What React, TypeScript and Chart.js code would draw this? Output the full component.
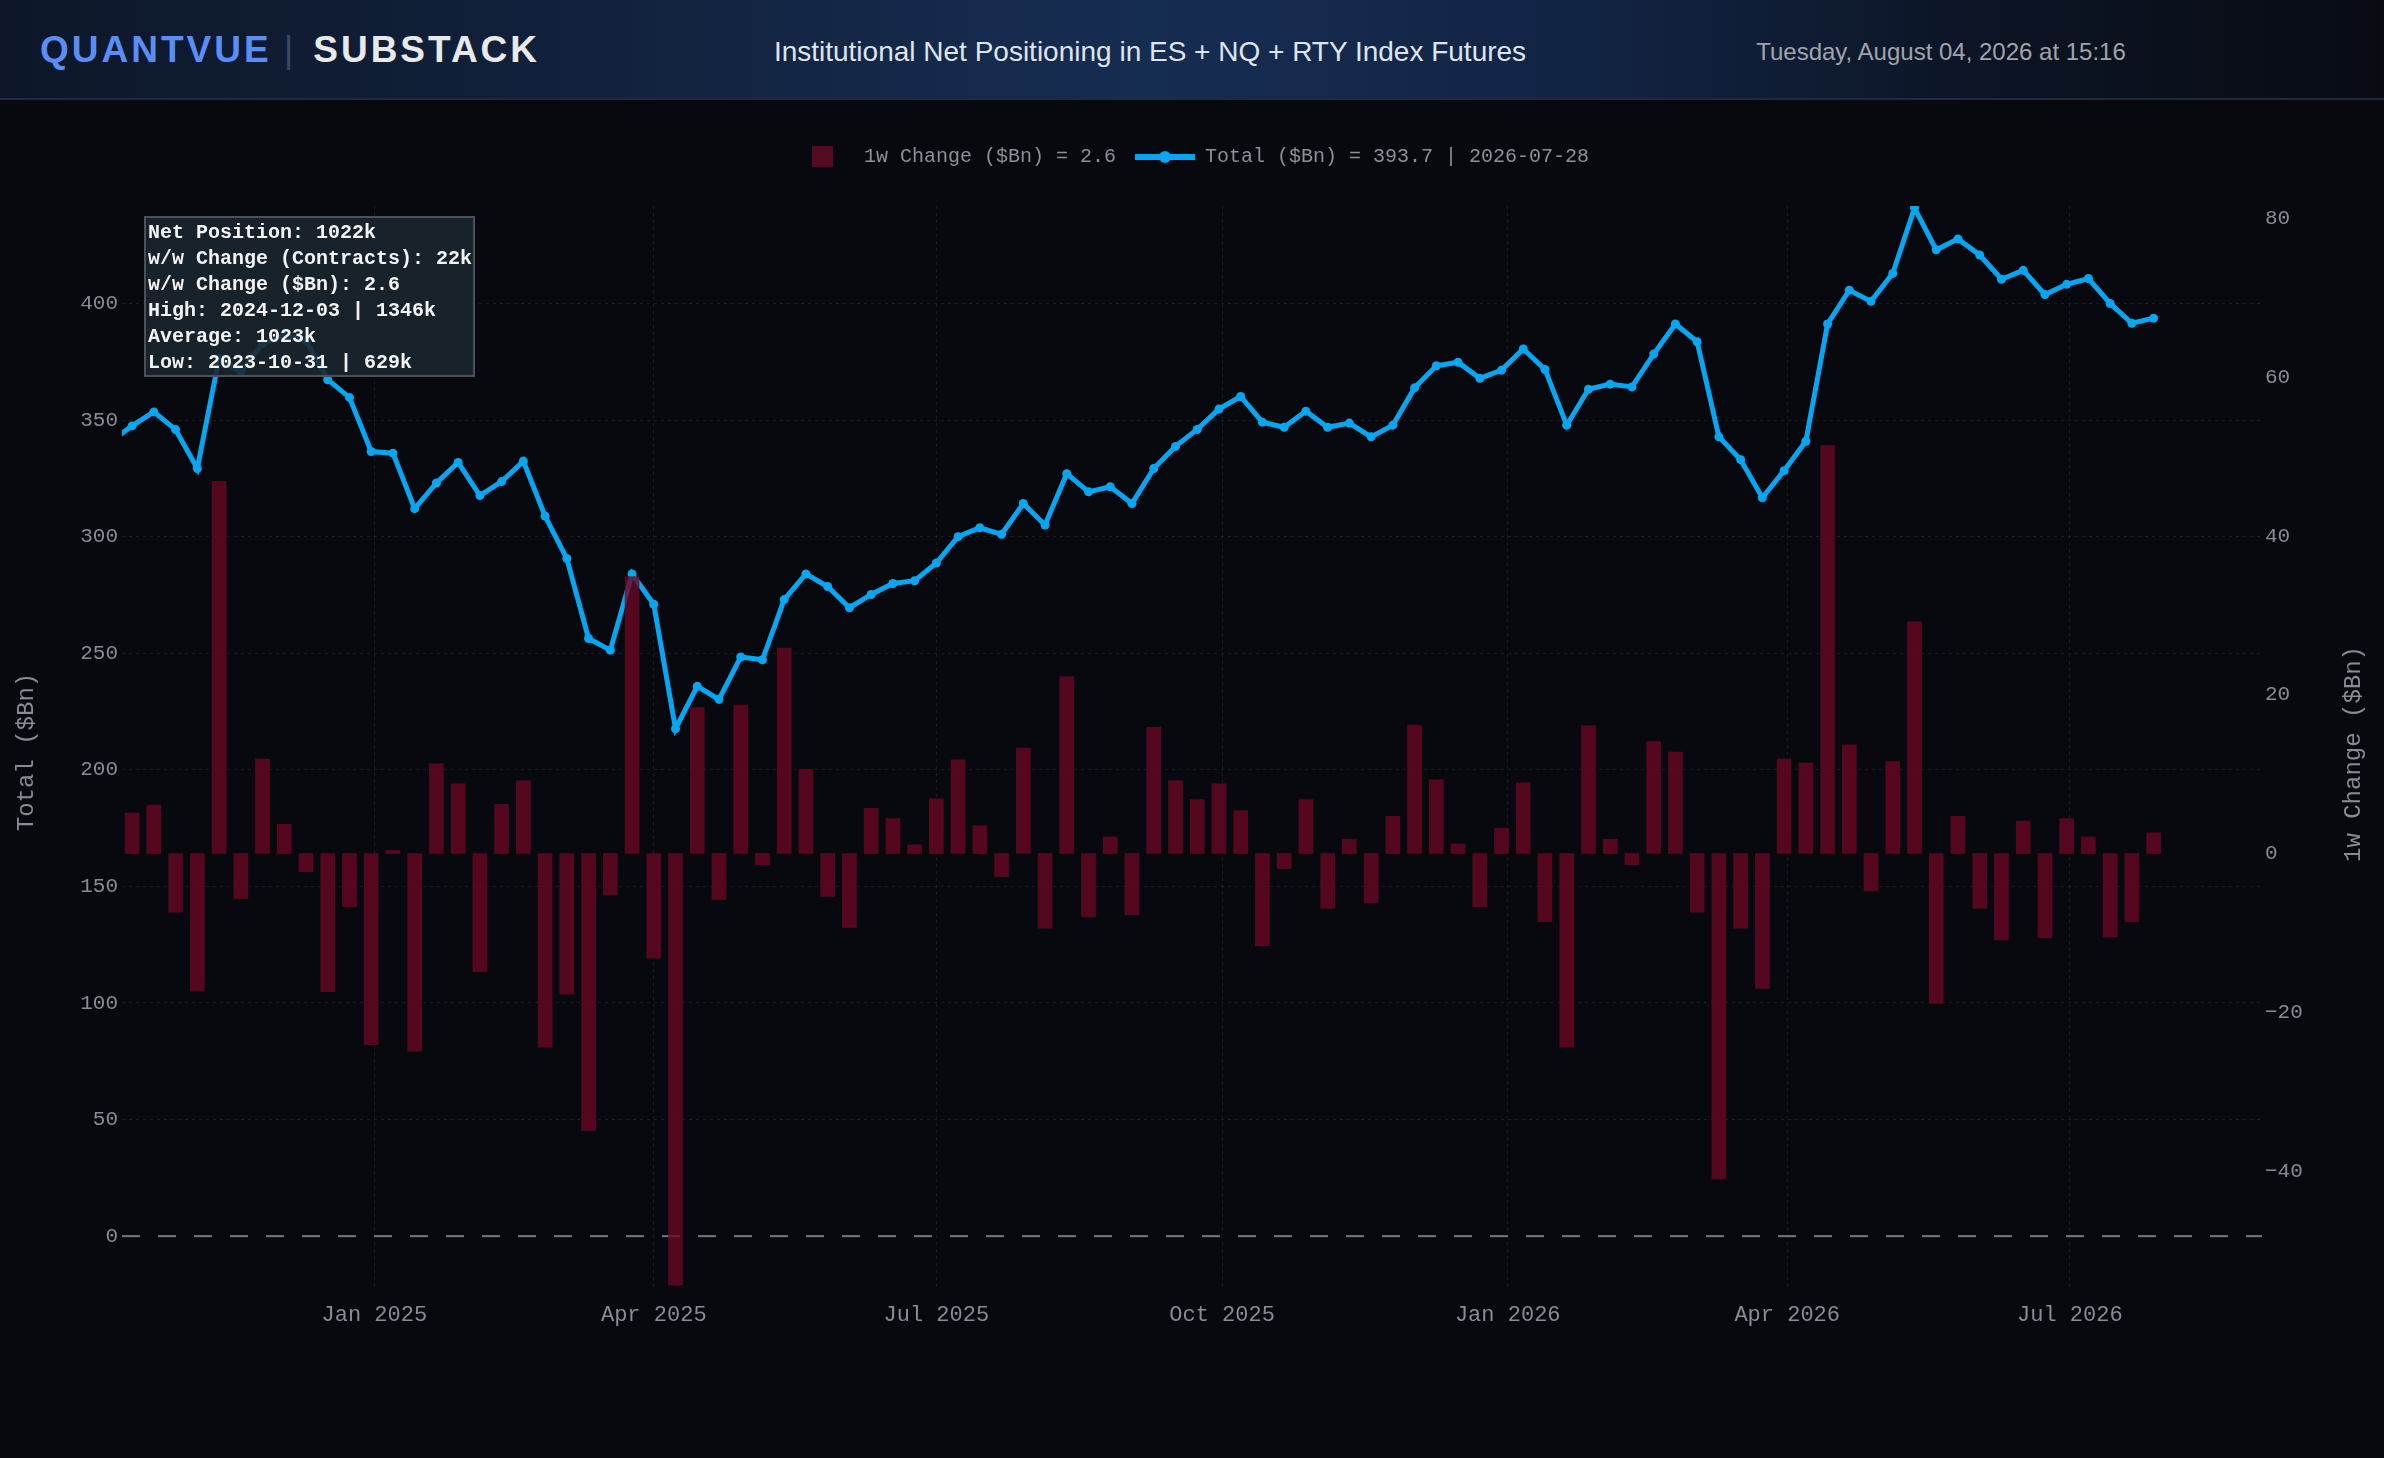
import React, { useEffect, useRef } from 'react';
import { Chart, registerables } from 'chart.js';

Chart.register(...registerables);

// ---------------- data ----------------
const DATES = [
  '2024-10-08', '2024-10-15', '2024-10-22', '2024-10-29', '2024-11-05', '2024-11-12', '2024-11-19', '2024-11-26',
  '2024-12-03', '2024-12-10', '2024-12-17', '2024-12-24', '2024-12-31',
  '2025-01-07', '2025-01-14', '2025-01-21', '2025-01-28', '2025-02-04', '2025-02-11', '2025-02-18', '2025-02-25',
  '2025-03-04', '2025-03-11', '2025-03-18', '2025-03-25', '2025-04-01', '2025-04-08', '2025-04-15', '2025-04-22',
  '2025-04-29', '2025-05-06', '2025-05-13', '2025-05-20', '2025-05-27', '2025-06-03', '2025-06-10', '2025-06-17',
  '2025-06-24', '2025-07-01', '2025-07-08', '2025-07-15', '2025-07-22', '2025-07-29', '2025-08-05', '2025-08-12',
  '2025-08-19', '2025-08-26', '2025-09-02', '2025-09-09', '2025-09-16', '2025-09-23', '2025-09-30', '2025-10-07',
  '2025-10-14', '2025-10-21', '2025-10-28', '2025-11-04', '2025-11-11', '2025-11-18', '2025-11-25', '2025-12-02',
  '2025-12-09', '2025-12-16', '2025-12-23', '2025-12-30',
  '2026-01-06', '2026-01-13', '2026-01-20', '2026-01-27', '2026-02-03', '2026-02-10', '2026-02-17', '2026-02-24',
  '2026-03-03', '2026-03-10', '2026-03-17', '2026-03-24', '2026-03-31', '2026-04-07', '2026-04-14', '2026-04-21',
  '2026-04-28', '2026-05-05', '2026-05-12', '2026-05-19', '2026-05-26', '2026-06-02', '2026-06-09', '2026-06-16',
  '2026-06-23', '2026-06-30', '2026-07-07', '2026-07-14', '2026-07-21', '2026-07-28',
];

const TOTAL_BN = [
  340.6, 347.5, 353.5, 345.9, 329.2, 376.5, 370.6, 382.7,
  386.4, 384.2, 367.3, 359.7, 336.5,
  335.8, 312.0, 323.0, 331.8, 317.6, 323.6, 332.4, 308.8,
  290.6, 256.3, 251.3, 284.0, 271.0, 217.6, 235.8, 230.2,
  248.4, 247.2, 273.0, 284.0, 278.6, 269.5, 275.2, 279.9,
  281.1, 288.7, 300.0, 303.8, 301.0, 314.2, 305.0, 327.0,
  319.2, 321.4, 314.2, 329.2, 338.7, 346.0, 354.7, 360.1,
  349.1, 346.9, 353.8, 346.9, 348.7, 342.8, 347.8, 363.8,
  373.3, 374.8, 367.9, 371.4,
  380.5, 371.7, 347.8, 363.2, 365.4, 364.2, 378.3, 391.2,
  383.6, 342.8, 333.0, 316.7, 328.3, 340.9, 391.2, 405.7,
  400.9, 412.9, 440.9, 423.0, 427.7, 420.8, 410.4, 414.2,
  403.8, 408.2, 410.7, 400.0, 391.5, 393.7,
];

const CHANGE_BN = [
  null, 5.1, 6.1, -7.4, -17.3, 46.9, -5.7, 11.9,
  3.7, -2.3, -17.4, -6.7, -24.1,
  0.4, -24.9, 11.3, 8.8, -14.9, 6.2, 9.2, -24.4,
  -17.7, -34.9, -5.2, 34.9, -13.2, -54.4, 18.4, -5.8,
  18.7, -1.4, 25.9, 10.6, -5.4, -9.3, 5.7, 4.4,
  1.1, 6.9, 11.8, 3.5, -2.9, 13.3, -9.4, 22.3,
  -8.0, 2.1, -7.7, 15.9, 9.2, 6.8, 8.8, 5.4,
  -11.6, -1.9, 6.8, -6.9, 1.8, -6.2, 4.7, 16.2,
  9.3, 1.2, -6.7, 3.2,
  8.9, -8.6, -24.4, 16.1, 1.8, -1.4, 14.1, 12.8,
  -7.4, -41.0, -9.4, -17.0, 11.9, 11.4, 51.4, 13.7,
  -4.7, 11.6, 29.2, -18.9, 4.7, -6.9, -10.9, 4.1,
  -10.6, 4.4, 2.1, -10.5, -8.6, 2.6,
];

const X_TICK_DATES = ['2025-01-01', '2025-04-01', '2025-07-01', '2025-10-01', '2026-01-01', '2026-04-01', '2026-07-01'];
const LEFT_TICKS = [0, 50, 100, 150, 200, 250, 300, 350, 400];
const RIGHT_TICKS = [-40, -20, 0, 20, 40, 60, 80];
const MONTH_NAMES = ['Jan', 'Feb', 'Mar', 'Apr', 'May', 'Jun', 'Jul', 'Aug', 'Sep', 'Oct', 'Nov', 'Dec'];

const INFO_LINES = [
  'Net Position: 1022k',
  'w/w Change (Contracts): 22k',
  'w/w Change ($Bn): 2.6',
  'High: 2024-12-03 | 1346k',
  'Average: 1023k',
  'Low: 2023-10-31 | 629k',
];

// ---------------- style ----------------
const BG = '#07090e';
const LINE_COLOR = '#06a7f2';
const BAR_COLOR = 'rgba(106, 8, 37, 0.8)';
const LEGEND_BAR = '#560a21';
const TICK_COLOR = '#878c95';
const GRID_COLOR = 'rgba(255,255,255,0.075)';
const ZERO_COLOR = '#74787f';
const MONO = '"Liberation Mono", "Courier New", monospace';

const toDay = (s: string) => {
  const [y, m, d] = s.split('-').map(Number);
  return Date.UTC(y, m - 1, d) / 86400000;
};

const X_MIN = toDay('2024-10-15') - 3.25;
const X_MAX = toDay('2026-07-28') + 34.9;

const zeroLinePlugin = {
  id: 'zeroLine',
  beforeDatasetsDraw(chart: any) {
    const { ctx, chartArea } = chart;
    const y = chart.scales.y.getPixelForValue(0);
    ctx.save();
    ctx.strokeStyle = ZERO_COLOR;
    ctx.lineWidth = 2;
    ctx.setLineDash([18, 18]);
    ctx.beginPath();
    ctx.moveTo(chartArea.left, y);
    ctx.lineTo(chartArea.right, y);
    ctx.stroke();
    ctx.restore();
  },
};

const axisTitlesPlugin = {
  id: 'axisTitles',
  afterDraw(chart: any) {
    const { ctx } = chart;
    const drawV = (text: string, x: number, y: number) => {
      ctx.save();
      ctx.translate(x, y);
      ctx.rotate(-Math.PI / 2);
      ctx.font = `24px ${MONO}`;
      ctx.fillStyle = TICK_COLOR;
      ctx.textAlign = 'center';
      ctx.textBaseline = 'middle';
      ctx.fillText(text, 0, 0);
      ctx.restore();
    };
    drawV('Total ($Bn)', 27, 652);
    drawV('1w Change ($Bn)', 2354, 654);
  },
};

export default function App() {
  const canvasRef = useRef<HTMLCanvasElement | null>(null);

  useEffect(() => {
    document.documentElement.style.margin = '0';
    document.body.style.margin = '0';
    document.body.style.background = BG;
    document.body.style.overflow = 'hidden';
    const canvas = canvasRef.current;
    if (!canvas) return;

    const xs = DATES.map(toDay);
    const lineData = xs.map((x, i) => ({ x, y: TOTAL_BN[i] }));
    const barData = xs.map((x, i) => ({ x, y: CHANGE_BN[i] }));

    const chart = new Chart(canvas, {
      type: 'bar',
      data: {
        datasets: [
          {
            type: 'line',
            label: 'Total ($Bn)',
            data: lineData as any,
            yAxisID: 'y',
            borderColor: LINE_COLOR,
            backgroundColor: LINE_COLOR,
            borderWidth: 5,
            pointRadius: 4.5,
            pointBackgroundColor: LINE_COLOR,
            pointBorderWidth: 0,
            tension: 0,
            order: 2,
          } as any,
          {
            type: 'bar',
            label: '1w Change ($Bn)',
            data: barData as any,
            yAxisID: 'y1',
            backgroundColor: BAR_COLOR,
            borderWidth: 0,
            barThickness: 14,
            order: 1,
          } as any,
        ],
      },
      options: {
        animation: false,
        responsive: false,
        layout: { padding: { top: 106, left: 0, right: 0, bottom: 0 } },
        plugins: { legend: { display: false }, tooltip: { enabled: false } },
        scales: {
          x: {
            type: 'linear',
            min: X_MIN,
            max: X_MAX,
            offset: false,
            afterBuildTicks: (s: any) => {
              s.ticks = X_TICK_DATES.map((d) => ({ value: toDay(d) }));
            },
            afterFit: (s: any) => {
              s.height = 168;
            },
            ticks: {
              color: TICK_COLOR,
              font: { family: MONO, size: 22 },
              padding: 12,
              maxRotation: 0,
              autoSkip: false,
              callback: (v: any) => {
                const d = new Date(Number(v) * 86400000);
                return `${MONTH_NAMES[d.getUTCMonth()]} ${d.getUTCFullYear()}`;
              },
            },
            grid: { color: GRID_COLOR, drawTicks: false, offset: false, lineWidth: 1 },
            border: { display: false, dash: [3, 4] },
          } as any,
          y: {
            type: 'linear',
            position: 'left',
            min: -23.1,
            max: 441.8,
            afterBuildTicks: (s: any) => {
              s.ticks = LEFT_TICKS.map((v) => ({ value: v }));
            },
            afterFit: (s: any) => {
              s.width = 122;
            },
            ticks: {
              color: TICK_COLOR,
              font: { family: MONO, size: 21 },
              padding: 4,
              callback: (v: any) => String(v),
            },
            grid: {
              color: (c: any) => (c.tick && c.tick.value === 0 ? 'rgba(0,0,0,0)' : GRID_COLOR),
              drawTicks: false,
              lineWidth: 1,
            },
            border: { display: false, dash: [3, 4] },
          } as any,
          y1: {
            type: 'linear',
            position: 'right',
            min: -55.0,
            max: 81.6,
            afterBuildTicks: (s: any) => {
              s.ticks = RIGHT_TICKS.map((v) => ({ value: v }));
            },
            afterFit: (s: any) => {
              s.width = 122;
            },
            ticks: {
              color: TICK_COLOR,
              font: { family: MONO, size: 21 },
              padding: 3,
              callback: (v: any) => (Number(v) < 0 ? '\u2212' + Math.abs(Number(v)) : String(v)),
            },
            grid: { display: false, drawTicks: false },
            border: { display: false },
          } as any,
        },
      },
      plugins: [zeroLinePlugin, axisTitlesPlugin],
    });

    return () => chart.destroy();
  }, []);

  const lastTotal = TOTAL_BN[TOTAL_BN.length - 1];
  const lastChange = CHANGE_BN[CHANGE_BN.length - 1];
  const lastDate = DATES[DATES.length - 1];

  return (
    <div
      style={{
        position: 'relative',
        width: 2384,
        height: 1458,
        background: BG,
        overflow: 'hidden',
        fontFamily: '"Liberation Sans", Arial, sans-serif',
      }}
    >
      {/* Header */}
      <div
        style={{
          position: 'absolute',
          left: 0,
          top: 0,
          width: 2384,
          height: 100,
          background:
            'linear-gradient(90deg, #0d1729 0%, #11203a 22%, #162d52 48%, #122444 66%, #0c1424 84%, #080b12 100%)',
          borderBottom: '2px solid #1f2a3c',
          boxSizing: 'border-box',
        }}
      >
        <div
          style={{
            position: 'absolute',
            left: 40,
            top: 0,
            height: 100,
            display: 'flex',
            alignItems: 'center',
            fontWeight: 'bold',
            fontSize: 37,
            letterSpacing: 3,
          }}
        >
          <span style={{ color: '#5b8ef5' }}>QUANTVUE</span>
          <span style={{ color: '#34486a', fontWeight: 'normal', margin: '0 20px 0 12px', letterSpacing: 0 }}>|</span>
          <span style={{ color: '#e9e9ea' }}>SUBSTACK</span>
        </div>
        <div
          style={{
            position: 'absolute',
            left: 1150,
            top: 2,
            height: 100,
            display: 'flex',
            alignItems: 'center',
            transform: 'translateX(-50%)',
            whiteSpace: 'nowrap',
            color: '#dfe4ee',
            fontSize: 28,
          }}
        >
          Institutional Net Positioning in ES + NQ + RTY Index Futures
        </div>
        <div
          style={{
            position: 'absolute',
            left: 1941,
            top: 2,
            height: 100,
            display: 'flex',
            alignItems: 'center',
            transform: 'translateX(-50%)',
            whiteSpace: 'nowrap',
            color: '#a0a4ab',
            fontSize: 24,
          }}
        >
          Tuesday, August 04, 2026 at 15:16
        </div>
      </div>

      {/* Chart */}
      <div style={{ position: 'absolute', left: 0, top: 100, width: 2384, height: 1358 }}>
        <canvas ref={canvasRef} width={2384} height={1358} style={{ width: 2384, height: 1358, display: 'block' }} />
      </div>

      {/* Legend */}
      <div style={{ position: 'absolute', left: 812, top: 146, width: 21, height: 21, background: LEGEND_BAR }} />
      <div
        style={{
          position: 'absolute',
          left: 864,
          top: 145,
          height: 24,
          lineHeight: '24px',
          fontFamily: MONO,
          fontSize: 20,
          color: '#8c9099',
          whiteSpace: 'pre',
        }}
      >
        {`1w Change ($Bn) = ${lastChange}`}
      </div>
      <div style={{ position: 'absolute', left: 1135, top: 154, width: 60, height: 6, background: LINE_COLOR }} />
      <div
        style={{
          position: 'absolute',
          left: 1159,
          top: 151,
          width: 12,
          height: 12,
          borderRadius: '50%',
          background: LINE_COLOR,
        }}
      />
      <div
        style={{
          position: 'absolute',
          left: 1205,
          top: 145,
          height: 24,
          lineHeight: '24px',
          fontFamily: MONO,
          fontSize: 20,
          color: '#8c9099',
          whiteSpace: 'pre',
        }}
      >
        {`Total ($Bn) = ${lastTotal} | ${lastDate}`}
      </div>

      {/* Info box */}
      <div
        style={{
          position: 'absolute',
          left: 144,
          top: 216,
          width: 331,
          height: 161,
          boxSizing: 'border-box',
          border: '2px solid #4b5157',
          background: 'rgba(27, 37, 47, 0.88)',
          padding: '2px 2px',
          fontFamily: MONO,
          fontWeight: 'bold',
          fontSize: 20,
          lineHeight: '26px',
          color: '#f3f3f3',
          whiteSpace: 'pre',
          overflow: 'hidden',
        }}
      >
        {INFO_LINES.map((l) => (
          <div key={l}>{l}</div>
        ))}
      </div>
    </div>
  );
}
